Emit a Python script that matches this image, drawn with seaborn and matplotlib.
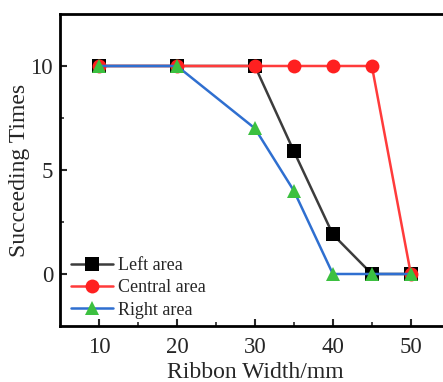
import matplotlib
matplotlib.use("Agg")
import matplotlib.pyplot as plt
import seaborn as sns
import pandas as pd

# ribbon width (mm) and succeeding times for each area
widths = [10, 20, 30, 35, 40, 45, 50]
left_area = [10, 10, 10, 5.9, 1.9, 0, 0]
central_area = [10, 10, 10, 10, 10, 10, 0]
right_area = [10, 10, 7, 4, 0, 0, 0]

sns.set_style("ticks")
plt.rcParams['font.family'] = ['Liberation Serif', 'DejaVu Serif']

fig = plt.figure(figsize=(4.43, 3.82), dpi=100)
ax = fig.add_axes([0.1354, 0.1466, 0.880, 0.8168])

series = [
    ("Left area", left_area, "#3c3c3c", "#000000", "s"),
    ("Central area", central_area, "#ff3b3b", "#ff2020", "o"),
    ("Right area", right_area, "#2f6fd0", "#3cc040", "^"),
]
for name, vals, lc, mc, mk in series:
    df = pd.DataFrame({"width": widths, "times": vals})
    sns.lineplot(data=df, x="width", y="times", ax=ax, color=lc, lw=1.8,
                 marker=mk, markersize=10, markerfacecolor=mc,
                 markeredgecolor=mc, markeredgewidth=0, label=name)

ax.set_xlim(5, 55)
ax.set_ylim(-2.5, 12.5)
ax.set_xticks([10, 20, 30, 40, 50])
ax.set_yticks([0, 5, 10])
ax.set_xticks([15, 25, 35, 45], minor=True)
ax.set_yticks([2.5, 7.5], minor=True)
ax.tick_params(which="major", direction="in", length=5, width=1.5,
               labelsize=16.5)
ax.tick_params(axis="x", which="major", pad=8)
ax.tick_params(axis="y", which="major", pad=5)
ax.tick_params(which="minor", direction="in", length=3, width=1.2)
for s in ax.spines.values():
    s.set_linewidth(2)
    s.set_color("black")

ax.set_xlabel("Ribbon Width/mm", fontsize=17, labelpad=3)
ax.set_ylabel("Succeeding Times", fontsize=17, labelpad=0)

ax.legend(loc="lower left", frameon=False, fontsize=13, handlelength=2.3,
          handletextpad=0.3, labelspacing=0.3, borderaxespad=0.0,
          bbox_to_anchor=(0.01, 0.0))

fig.savefig("out.png", dpi=100)
